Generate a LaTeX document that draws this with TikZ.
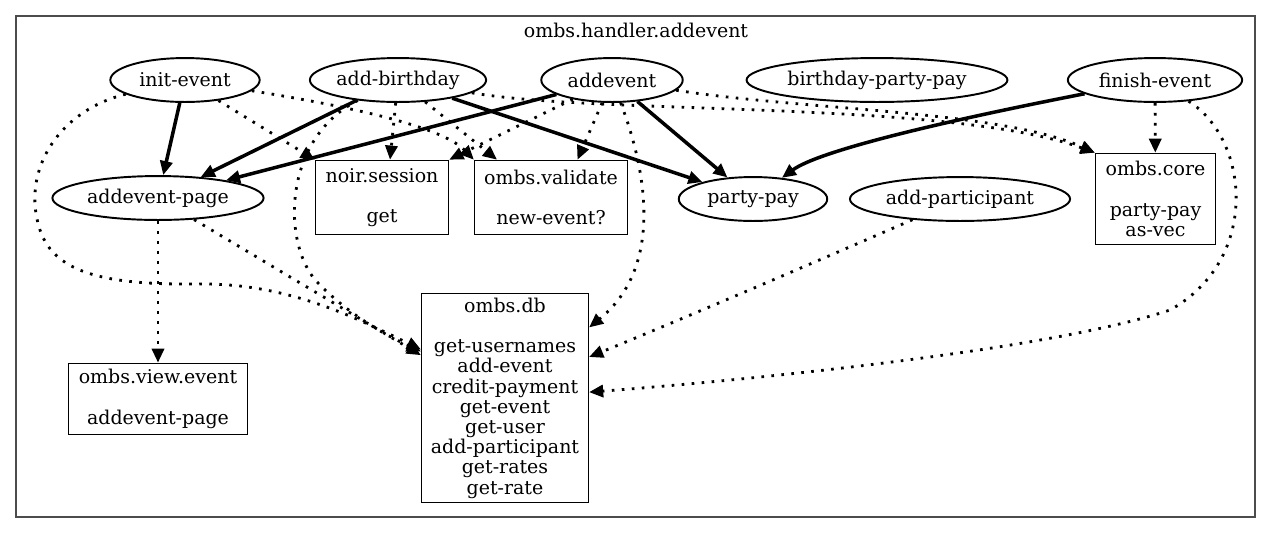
\documentclass[tikz,border=0pt]{standalone}
\usepackage{fontspec}
\setmainfont{DejaVu Serif}
\usetikzlibrary{positioning,shapes.geometric,arrows.meta}
\tikzset{fn node/.style={ellipse,draw,line width=1.1pt,inner sep=0pt,minimum height=25pt},}
\tikzset{ns node/.style={rectangle,draw,line width=0.6pt,inner sep=0pt,align=center},}
\tikzset{call edge/.style={line width=2pt,-{Triangle[length=8pt,width=7pt]}},}
\tikzset{use edge/.style={line width=1.6pt,dash pattern=on 1.5pt off 4.2pt,-{Triangle[length=8pt,width=7pt]}},}

\begin{document}
\begin{tikzpicture}[x=0.02cm,y=-0.02cm,font=\fontsize{10.8}{11.5}\selectfont]
       \useasboundingbox (0,0) rectangle (1271,532);
       \draw[black!70,line width=0.9pt] (16,16) rectangle (1255,517);
       \node (0) at (636,30) {ombs.handler.addevent};

       \node[fn node,minimum width=85pt] (1) at (185,80) {init-event};
       \node[fn node,minimum width=100.3pt] (2) at (398,80) {add-birthday};
       \node[fn node,minimum width=80.5pt] (3) at (612,80) {addevent};
       \node[fn node,minimum width=148.5pt] (4) at (877,80) {birthday-party-pay};
       \node[fn node,minimum width=99.2pt] (5) at (1155,80) {finish-event};
       \node[fn node,minimum width=120.2pt] (6) at (158,198) {addevent-page};
       \node[ns node,minimum width=76pt,minimum height=42.5pt] (7) at (382,197.5) {noir.session\\[11.5pt]get};
       \node[ns node,minimum width=87.3pt,minimum height=42.5pt] (8) at (551,197.5) {ombs.validate\\[11.5pt]new-event?};
       \node[fn node,minimum width=84.5pt] (9) at (753,199) {party-pay};
       \node[fn node,minimum width=125.3pt] (10) at (960,199) {add-participant};
       \node[ns node,minimum width=68.6pt,minimum height=52.2pt] (11) at (1155.5,199) {ombs.core\\[11.5pt]party-pay\\as-vec};
       \node[ns node,minimum width=102pt,minimum height=40.8pt] (12) [on grid, below = 4.02cm of 6] {ombs.view.event\\[11.5pt]addevent-page};
       \node[ns node,minimum width=95.2pt,minimum height=119pt] (13) at (505,398) {ombs.db\\[11.5pt]get-usernames\\add-event\\credit-payment\\get-event\\get-user\\add-participant\\get-rates\\get-rate};

       % calls inside the namespace
       \draw[call edge] (1) -- (6);
       \draw[call edge] (2) -- (6);
       \draw[call edge] (3) -- (6);
       \draw[call edge] (2) -- (9);
       \draw[call edge] (3) -- (9);
       \draw[call edge] (5) .. controls (950,120) and (820,150) .. (9);

       % calls to other namespaces
       \draw[use edge] (1) -- (7.north west);
       \draw[use edge] (1) .. controls (340,105) and (440,125) .. (8.north west);
       \draw[use edge] (2) -- (7.78);
       \draw[use edge] (2) -- (8.145);
       \draw[use edge] (3) -- (7.north east);
       \draw[use edge] (3) -- (8.55);
       \draw[use edge] (2) .. controls (600,115) and (950,100) .. (11.north west);
       \draw[use edge] (3) .. controls (800,110) and (1000,110) .. (11.north west);
       \draw[use edge] (5) -- (11);
       \draw[use edge] (6) -- (12);
       \draw[use edge] (6) -- (13.153);
       \draw[use edge] (1) .. controls (60,110) and (20,170) .. (40,230)
             .. controls (55,275) and (110,285) .. (200,284)
             .. controls (290,283) and (360,320) .. (13.150);
       \draw[use edge] (2) .. controls (280,140) and (282,250) .. (320,285)
             .. controls (350,315) and (385,335) .. (13.151);
       \draw[use edge] (3) .. controls (650,180) and (660,270) .. (13.40);
       \draw[use edge] (10) .. controls (820,260) and (680,320) .. (13.26);
       \draw[use edge] (5) .. controls (1250,140) and (1260,260) .. (1170,310)
             .. controls (1050,350) and (750,380) .. (13.4);
\end{tikzpicture}
\end{document}
